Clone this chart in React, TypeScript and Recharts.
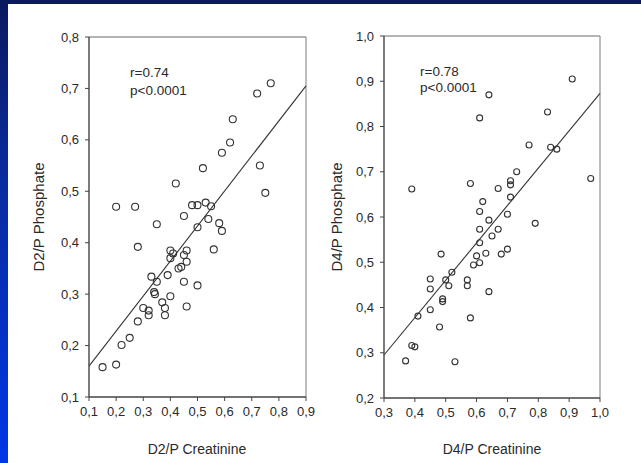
import React from 'react';
import { ScatterChart, Scatter, XAxis, YAxis, ReferenceLine } from 'recharts';

// D2 panel: creatinine vs phosphate ratios
const d2Creatinine = [
  0.77, 0.72, 0.63, 0.62, 0.59, 0.52, 0.73, 0.75, 0.42, 0.2, 0.27, 0.48, 0.5, 0.53, 0.55, 0.45, 0.35,
  0.5, 0.54, 0.58, 0.59, 0.28, 0.4, 0.41, 0.4, 0.46, 0.45, 0.46, 0.43, 0.44, 0.56, 0.33, 0.35, 0.34,
  0.343, 0.39, 0.45, 0.5, 0.4, 0.37, 0.46, 0.38, 0.3, 0.32, 0.32, 0.38, 0.28, 0.25, 0.22, 0.15, 0.2,
];
const d2Phosphate = [
  0.71, 0.69, 0.64, 0.595, 0.575, 0.545, 0.55, 0.497, 0.515, 0.47, 0.47, 0.473, 0.473, 0.478, 0.471,
  0.452, 0.436, 0.43, 0.446, 0.438, 0.423, 0.392, 0.385, 0.379, 0.37, 0.385, 0.376, 0.363, 0.35, 0.353,
  0.387, 0.334, 0.324, 0.304, 0.3, 0.337, 0.324, 0.317, 0.296, 0.284, 0.276, 0.273, 0.273, 0.268, 0.259,
  0.259, 0.247, 0.215, 0.201, 0.158, 0.163,
];
const d2Fit = [
  { x: 0.1, y: 0.16 },
  { x: 0.9, y: 0.705 },
];
const d2Ticks = [0.1, 0.2, 0.3, 0.4, 0.5, 0.6, 0.7, 0.8, 0.9];
const d2YTicks = [0.1, 0.2, 0.3, 0.4, 0.5, 0.6, 0.7, 0.8];

// D4 panel
const d4Creatinine = [
  0.91, 0.64, 0.83, 0.61, 0.77, 0.84, 0.86, 0.97, 0.39, 0.58, 0.67, 0.71, 0.71, 0.73, 0.71, 0.62, 0.61,
  0.7, 0.64, 0.79, 0.61, 0.67, 0.65, 0.61, 0.7, 0.68, 0.63, 0.485, 0.6, 0.61, 0.59, 0.64, 0.45, 0.45,
  0.5, 0.52, 0.51, 0.57, 0.57, 0.49, 0.49, 0.45, 0.41, 0.48, 0.58, 0.39, 0.4, 0.37, 0.53,
];
const d4Phosphate = [
  0.905, 0.87, 0.832, 0.819, 0.759, 0.754, 0.75, 0.685, 0.662, 0.674, 0.663, 0.68, 0.671, 0.7, 0.644,
  0.634, 0.612, 0.606, 0.593, 0.586, 0.573, 0.573, 0.558, 0.543, 0.529, 0.518, 0.52, 0.518, 0.514,
  0.499, 0.494, 0.435, 0.463, 0.441, 0.461, 0.478, 0.448, 0.461, 0.448, 0.419, 0.413, 0.395, 0.381,
  0.357, 0.377, 0.316, 0.313, 0.282, 0.28,
];
const d4Fit = [
  { x: 0.3, y: 0.295 },
  { x: 1.0, y: 0.873 },
];
const d4Ticks = [0.3, 0.4, 0.5, 0.6, 0.7, 0.8, 0.9, 1.0];
const d4YTicks = [0.2, 0.3, 0.4, 0.5, 0.6, 0.7, 0.8, 0.9, 1.0];

const FONT = 'Arial, "Liberation Sans", Helvetica, sans-serif';
const INK = '#2a2a2a';

const fmt = (v: number) => v.toFixed(1).replace('.', ',');

const ring = (r: number) => (props: any) =>
  <circle cx={props.cx} cy={props.cy} r={r} fill="none" stroke="#333" strokeWidth={1.1} />;

interface PanelProps {
  xs: number[];
  ys: number[];
  fit: { x: number; y: number }[];
  xTicks: number[];
  yTicks: number[];
  left: number;
  width: number;
  top: number;
  plotBottom: number;
  yAxisWidth: number;
  rightPad: number;
  dotR: number;
}

const Panel = ({ xs, ys, fit, xTicks, yTicks, left, width, top, plotBottom, yAxisWidth, rightPad, dotR }: PanelProps) => {
  const data = xs.map((x, i) => ({ x, y: ys[i] }));
  const xDom: [number, number] = [xTicks[0], xTicks[xTicks.length - 1]];
  const yDom: [number, number] = [yTicks[0], yTicks[yTicks.length - 1]];
  const tickStyle = { fontSize: 13, fill: INK, fontFamily: FONT };
  return (
    <div style={{ position: 'absolute', left, top: 0 }}>
      <ScatterChart width={width} height={463} margin={{ top, right: rightPad, bottom: 0, left: 0 }}>
        <XAxis
          type="number"
          dataKey="x"
          domain={xDom}
          ticks={xTicks}
          tickFormatter={fmt}
          height={463 - plotBottom}
          tick={tickStyle}
          tickSize={4}
          tickMargin={6}
          axisLine={{ stroke: '#444', strokeWidth: 1.4 }}
          tickLine={{ stroke: '#444' }}
          allowDataOverflow
        />
        <YAxis
          type="number"
          dataKey="y"
          domain={yDom}
          ticks={yTicks}
          tickFormatter={fmt}
          width={yAxisWidth}
          tick={tickStyle}
          tickSize={4}
          tickMargin={6}
          axisLine={{ stroke: '#444', strokeWidth: 1.4 }}
          tickLine={{ stroke: '#444' }}
          allowDataOverflow
        />
        <ReferenceLine y={yDom[1]} stroke="#9a9a9a" strokeWidth={1.3} />
        <ReferenceLine x={xDom[1]} stroke="#9a9a9a" strokeWidth={1.3} />
        <ReferenceLine segment={fit} stroke="#333" strokeWidth={1.1} />
        <Scatter data={data} shape={ring(dotR)} isAnimationActive={false} />
      </ScatterChart>
    </div>
  );
};

const txt: React.CSSProperties = {
  position: 'absolute',
  fontFamily: FONT,
  color: INK,
  whiteSpace: 'nowrap',
  lineHeight: 1,
};

export default function App() {
  return (
    <div
      style={{
        position: 'absolute',
        left: 0,
        top: 0,
        width: 641,
        height: 463,
        background: '#fff',
        overflow: 'hidden',
      }}
    >
      {/* slide frame */}
      <div style={{ position: 'absolute', left: 0, top: 0, width: 641, height: 4, background: '#0b1a5e' }} />
      <div
        style={{
          position: 'absolute',
          left: 0,
          top: 0,
          width: 8,
          height: 463,
          background: 'linear-gradient(to bottom, #0b1a5e 0%, #0a2a9a 35%, #0036e6 100%)',
        }}
      />

      <Panel
        xs={d2Creatinine}
        ys={d2Phosphate}
        fit={d2Fit}
        xTicks={d2Ticks}
        yTicks={d2YTicks}
        left={0}
        width={330}
        top={37}
        plotBottom={397}
        yAxisWidth={89}
        rightPad={24}
        dotR={3.5}
      />
      <Panel
        xs={d4Creatinine}
        ys={d4Phosphate}
        fit={d4Fit}
        xTicks={d4Ticks}
        yTicks={d4YTicks}
        left={330}
        width={311}
        top={36}
        plotBottom={398}
        yAxisWidth={54}
        rightPad={41}
        dotR={3}
      />

      {/* annotations */}
      <div style={{ ...txt, left: 130, top: 66, fontSize: 13.5 }}>r=0.74</div>
      <div style={{ ...txt, left: 130, top: 84, fontSize: 13.5 }}>p&lt;0.0001</div>
      <div style={{ ...txt, left: 420, top: 65, fontSize: 13.5 }}>r=0.78</div>
      <div style={{ ...txt, left: 420, top: 81, fontSize: 13.5 }}>p&lt;0.0001</div>

      {/* axis titles */}
      <div style={{ ...txt, left: 197, top: 449, fontSize: 14, transform: 'translate(-50%, -50%)' }}>D2/P Creatinine</div>
      <div style={{ ...txt, left: 492, top: 449, fontSize: 14, transform: 'translate(-50%, -50%)' }}>D4/P Creatinine</div>
      <div style={{ ...txt, left: 38, top: 217, fontSize: 15, transform: 'translate(-50%, -50%) rotate(-90deg)' }}>
        D2/P Phosphate
      </div>
      <div style={{ ...txt, left: 336, top: 217, fontSize: 15, transform: 'translate(-50%, -50%) rotate(-90deg)' }}>
        D4/P Phosphate
      </div>
    </div>
  );
}
